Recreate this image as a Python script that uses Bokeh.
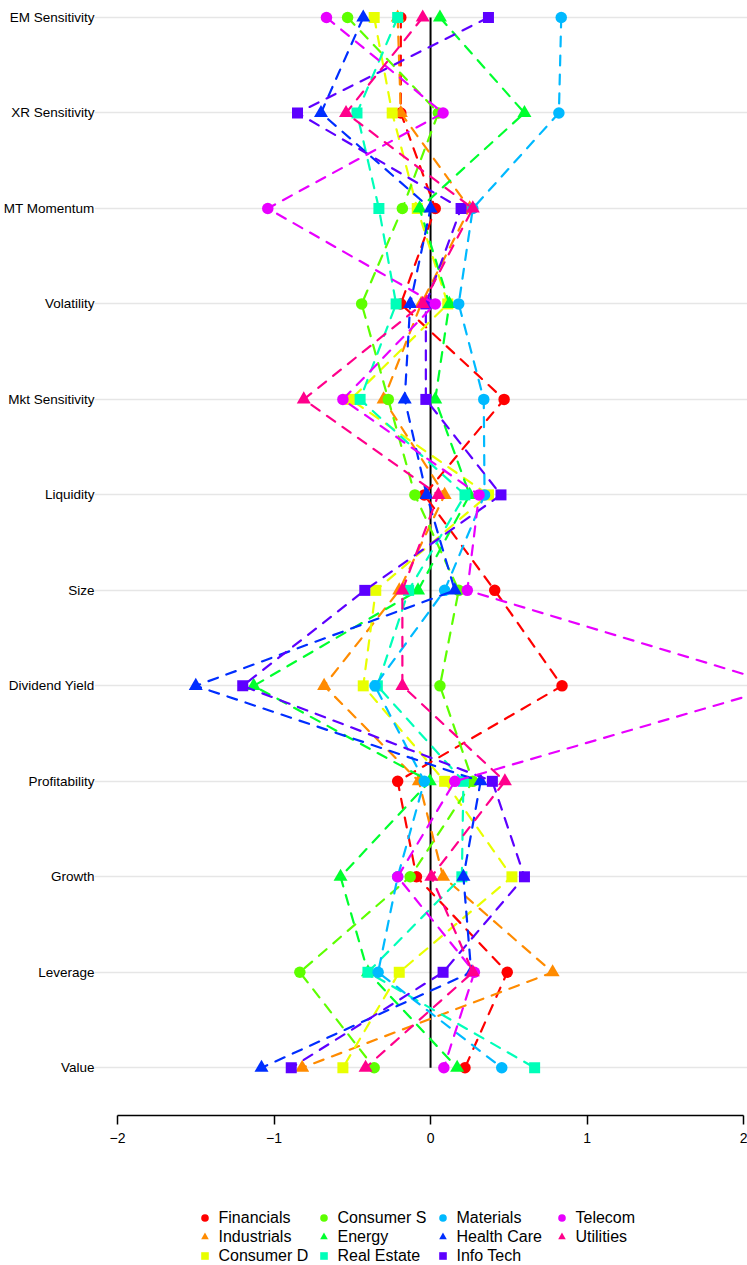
from bokeh.plotting import figure
from bokeh.models import Range1d, FixedTicker, Legend, LegendItem
from bokeh.layouts import column
from bokeh.embed import file_html
from bokeh.resources import INLINE

# Factors, top to bottom
factors = ["EM Sensitivity", "XR Sensitivity", "MT Momentum", "Volatility",
           "Mkt Sensitivity", "Liquidity", "Size", "Dividend Yield",
           "Profitability", "Growth", "Leverage", "Value"]

sectors = ["Financials", "Industrials", "Consumer D", "Consumer S", "Energy",
           "Real Estate", "Materials", "Health Care", "Info Tech", "Telecom",
           "Utilities"]

# Exposures per sector, in the order of `factors`
financials  = [-0.19, -0.19, 0.03, -0.19, 0.47, -0.04, 0.41, 0.84, -0.21, -0.09, 0.49, 0.22]
industrials = [-0.21, -0.19, 0.25, -0.06, -0.30, 0.09, -0.20, -0.68, -0.075, 0.08, 0.78, -0.82]
consumer_d  = [-0.36, -0.245, -0.085, 0.11, -0.51, 0.37, -0.35, -0.43, 0.09, 0.52, -0.20, -0.56]
consumer_s  = [-0.53, 0.05, -0.18, -0.44, -0.27, -0.10, 0.18, 0.06, 0.27, -0.13, -0.835, -0.36]
energy      = [0.06, 0.60, -0.07, 0.12, 0.03, 0.25, -0.08, -1.13, -0.005, -0.575, -0.40, 0.17]
real_estate = [-0.21, -0.47, -0.33, -0.22, -0.45, 0.22, -0.14, -0.34, 0.21, 0.20, -0.40, 0.665]
materials   = [0.835, 0.82, 0.27, 0.18, 0.34, 0.345, 0.09, -0.355, -0.04, -0.21, -0.335, 0.455]
health_care = [-0.43, -0.70, 0.0, -0.13, -0.165, -0.025, 0.155, -1.50, 0.32, 0.21, 0.26, -1.08]
info_tech   = [0.37, -0.85, 0.195, -0.03, -0.03, 0.45, -0.42, -1.20, 0.395, 0.60, 0.08, -0.89]
telecom     = [-0.665, 0.08, -1.04, 0.03, -0.56, 0.31, 0.235, 2.25, 0.155, -0.21, 0.28, 0.085]
utilities   = [-0.05, -0.54, 0.27, -0.05, -0.81, 0.05, -0.18, -0.18, 0.475, 0.005, 0.27, -0.415]

series = [financials, industrials, consumer_d, consumer_s, energy, real_estate,
          materials, health_care, info_tech, telecom, utilities]

colors = ["#FF0000", "#FF8B00", "#E8FF00", "#5DFF00", "#00FF2E", "#00FFB9",
          "#00B9FF", "#002EFF", "#5D00FF", "#E800FF", "#FF008B"]
markers = ["circle", "triangle", "square"] * 4
msizes = {"circle": 11.5, "triangle": 14, "square": 11}

x_ticks = [-2, -1, 0, 1, 2]

n = len(factors)
ypos = [n - i for i in range(n)]

FONT = "Liberation Sans"
W = 747
H_MAIN = 1150
H_LEG = 115
LEFT = 94

p = figure(width=W, height=H_MAIN, output_backend="svg", toolbar_location=None,
           x_range=Range1d(-2.147, 2.025), y_range=Range1d(0.5, 12.178),
           min_border_left=LEFT, min_border_right=0, min_border_top=0,
           min_border_bottom=35)
p.outline_line_color = None
p.background_fill_color = "white"
p.border_fill_color = "white"
p.xgrid.visible = False
p.ygrid.grid_line_color = "#e6e6e6"
p.ygrid.grid_line_width = 1.5

# y axis: factor names
p.yaxis.ticker = FixedTicker(ticks=ypos)
p.yaxis.major_label_overrides = {y: f for y, f in zip(ypos, factors)}
p.yaxis.axis_line_color = None
p.yaxis.major_tick_line_color = None
p.yaxis.minor_tick_line_color = None
p.yaxis.major_tick_out = 0
p.yaxis.major_tick_in = 0
p.yaxis.major_label_standoff = 0
p.yaxis.major_label_text_font = FONT
p.yaxis.major_label_text_font_size = "13.5px"
p.yaxis.major_label_text_color = "black"

# x axis
p.xaxis.ticker = FixedTicker(ticks=x_ticks)
p.xaxis.bounds = (min(x_ticks), max(x_ticks))
p.xaxis.major_label_overrides = {t: (("\u2212" + str(abs(t))) if t < 0 else str(t)) for t in x_ticks}
p.xaxis.axis_line_width = 1.5
p.xaxis.axis_line_color = "black"
p.xaxis.major_tick_line_width = 1.5
p.xaxis.major_tick_line_color = "black"
p.xaxis.major_tick_out = 9
p.xaxis.major_tick_in = 0
p.xaxis.minor_tick_line_color = None
p.xaxis.major_label_standoff = 8
p.xaxis.major_label_text_font = FONT
p.xaxis.major_label_text_font_size = "14px"
p.xaxis.major_label_text_color = "black"

# zero reference line
p.segment(x0=[0], y0=[min(ypos)], x1=[0], y1=[max(ypos)], line_color="black", line_width=2)

for name, vals, col, mk in zip(sectors, series, colors, markers):
    p.line(vals, ypos, line_color=col, line_width=2.2, line_dash="10 9", line_cap="round")
    p.scatter(vals, ypos, marker=mk, size=msizes[mk], fill_color=col, line_color=None)

# legend panel below the chart (its own renderers sit outside its visible y range)
q = figure(width=W, height=H_LEG, output_backend="svg", toolbar_location=None,
           x_range=Range1d(-2.147, 2.025), y_range=Range1d(100, 101),
           x_axis_location=None, y_axis_location=None,
           min_border_left=0, min_border_right=0, min_border_top=0, min_border_bottom=0)
q.outline_line_color = None
q.xgrid.visible = False
q.ygrid.visible = False

items = []
for name, vals, col, mk in zip(sectors, series, colors, markers):
    r = q.scatter(vals, ypos, marker=mk, size=msizes[mk], fill_color=col, line_color=None)
    items.append(LegendItem(label=name, renderers=[r]))

legend = Legend(items=items, location=(100.5, 0), orientation="vertical", nrows=3,
                glyph_width=19, glyph_height=19, label_height=19, label_width=95,
                label_standoff=5, spacing=0, padding=0, margin=0,
                border_line_color=None, background_fill_alpha=0,
                label_text_font=FONT, label_text_font_size="16px",
                label_text_color="black")
q.add_layout(legend, "center")

layout = column(p, q, spacing=0)
open("out.html", "w").write(file_html(layout, INLINE))
